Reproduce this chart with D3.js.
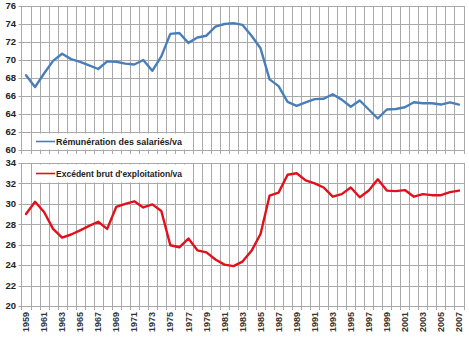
<!DOCTYPE html>
<html><head><meta charset="utf-8">
<script src="https://cdn.jsdelivr.net/npm/d3@7"></script>
<style>body{margin:0;background:#fff}svg{display:block}text{font-family:"Liberation Sans",Arial,sans-serif}</style>
</head><body><svg id="c" width="469" height="337"></svg>
<script>
const years = d3.range(1959, 2008);
const remuneration = [68.3,67.0,68.5,69.9,70.7,70.1,69.8,69.4,69.0,69.85,69.8,69.6,69.5,70.0,68.8,70.4,72.9,73.0,71.9,72.5,72.7,73.7,74.0,74.1,73.9,72.7,71.3,67.85,67.1,65.35,64.9,65.3,65.65,65.7,66.2,65.6,64.8,65.5,64.5,63.5,64.5,64.55,64.75,65.3,65.2,65.2,65.05,65.3,65.05];
const excedent = [29.0,30.2,29.2,27.55,26.7,27.0,27.4,27.85,28.25,27.55,29.7,30.0,30.25,29.65,29.95,29.3,25.95,25.75,26.6,25.45,25.25,24.55,24.05,23.9,24.35,25.4,27.05,30.8,31.1,32.85,33.0,32.3,32.0,31.6,30.7,30.95,31.6,30.65,31.3,32.4,31.3,31.25,31.35,30.7,30.95,30.85,30.85,31.15,31.3];
const topTicks = d3.range(60, 77, 2);
const botTicks = d3.range(20, 35, 2);
const yearLabels = years.filter(y => (y - 1959) % 2 === 0);
const legendTop = "Rémunération des salariés/va";
const legendBot = "Excédent brut d'exploitation/va";

const svg = d3.select("#c");
const left = 21.5, right = 463.5;
const x = d3.scaleBand().domain(years).range([left, right]);
const grid = "#a9a9a9";

function panel(values, dom, ticks, y0, y1, color, label, legY0, legY1, tickLen) {
  const y = d3.scaleLinear().domain(dom).range([y1, y0]);
  const g = svg.append("g");
  const bounds = years.map(d => x(d)).concat([right]);
  g.selectAll("line.v").data(bounds).join("line")
    .attr("x1", d => Math.round(d) + 0.5).attr("x2", d => Math.round(d) + 0.5)
    .attr("y1", y(dom[1])).attr("y2", y(dom[0]) + tickLen)
    .attr("stroke", grid).attr("stroke-width", 1);
  g.selectAll("line.h").data(ticks).join("line")
    .attr("x1", left - 3).attr("x2", right + 0.5)
    .attr("y1", d => Math.round(y(d)) + 0.5).attr("y2", d => Math.round(y(d)) + 0.5)
    .attr("stroke", grid).attr("stroke-width", 1);
  g.selectAll("text.yt").data(ticks).join("text")
    .attr("x", 16).attr("y", d => y(d)).attr("dy", "0.35em")
    .attr("text-anchor", "end").attr("font-size", 9.5).attr("font-weight", "bold").attr("fill", "#222")
    .text(d => d);
  g.append("rect").attr("x", 32).attr("y", legY0).attr("width", 153).attr("height", legY1 - legY0).attr("fill", "#fff");
  const ly = (legY0 + legY1) / 2;
  g.append("line").attr("x1", 36).attr("x2", 55).attr("y1", ly).attr("y2", ly).attr("stroke", color).attr("stroke-width", 1.6);
  g.append("text").attr("x", 56).attr("y", ly).attr("dy", "0.35em").attr("font-size", 9.5).attr("font-weight", "bold")
    .attr("fill", "#222").attr("textLength", 126).attr("lengthAdjust", "spacingAndGlyphs").text(label);
  const line = d3.line().x((d, i) => x(years[i]) + x.bandwidth() / 2).y(d => y(d));
  g.append("path").datum(values).attr("d", line).attr("fill", "none").attr("stroke", color)
    .attr("stroke-width", 2.4).attr("stroke-linejoin", "round").attr("stroke-linecap", "round");
  return y;
}

panel(remuneration, [60, 76], topTicks, 6, 150, "#4a7ebb", legendTop, 133.5, 149.5, 4);
panel(excedent, [20, 34], botTicks, 163, 306, "#e3101b", legendBot, 164.5, 182.5, 4);

svg.selectAll("text.xl").data(yearLabels).join("text")
  .attr("transform", d => `translate(${x(d) + x.bandwidth() / 2},312) rotate(-90)`)
  .attr("dy", "0.35em").attr("text-anchor", "end").attr("font-size", 9).attr("font-weight", "bold").attr("fill", "#333")
  .text(d => d);
</script></body></html>
